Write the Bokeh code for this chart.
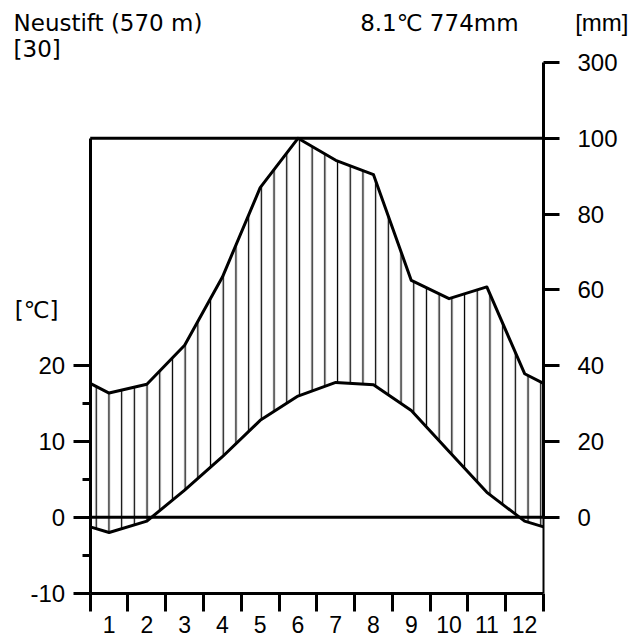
from bokeh.plotting import figure
from bokeh.models import LinearAxis, FixedTicker, Label, Range1d, ColumnDataSource
from bokeh.embed import file_html
from bokeh.resources import INLINE

# ---- data ----
station = "Neustift (570 m)"
years_label = "[30]"
mean_temp = 8.1
total_prec = 774
months = [1, 2, 3, 4, 5, 6, 7, 8, 9, 10, 11, 12]
temp = [-2.0, -0.5, 3.6, 8.0, 12.8, 16.0, 17.8, 17.5, 14.1, 8.7, 3.3, -0.5]
prec = [32.8, 35.1, 45.4, 63.4, 87.0, 100.0, 94.2, 90.4, 62.5, 57.7, 60.8, 37.9]
temp_ticks = [-10, 0, 10, 20]
temp_minor = [-5, 5, 15]
prec_ticks = [0, 20, 40, 60, 80, 100, 300]

FONT = "Liberation Sans"
HFONT = "DejaVu Sans"
FS = "24px"


def p2y(p):
    return p / 2.0 if p <= 100 else 50 + (p - 100) / 20.0


# extended curves (edges = mean of Dec/Jan)
xs = [0] + [m - 0.5 for m in months] + [12]
t_edge = (temp[0] + temp[-1]) / 2
p_edge = (prec[0] + prec[-1]) / 2
t_ext = [t_edge] + temp + [t_edge]
p_ext = [p_edge] + prec + [p_edge]
p_y = [p2y(v) for v in p_ext]
p_hatch = [min(v, 50) for v in p_y]

src = ColumnDataSource(dict(x=xs, t=t_ext, p=p_y, ph=p_hatch))

p = figure(width=632, height=639, x_range=Range1d(-2.375, 14.356), y_range=Range1d(-16.11, 68.18),
           output_backend="svg", toolbar_location=None,
           min_border_left=0, min_border_right=0, min_border_top=0, min_border_bottom=0)
p.outline_line_color = None
p.grid.visible = False
p.background_fill_color = "white"
p.border_fill_color = "white"

# hatch humid region
p.varea(x="x", y1="t", y2="ph", source=src, fill_alpha=0, hatch_pattern="|",
        hatch_scale=12.7, hatch_weight=1.3, hatch_color="black")

# reference lines (zero line, 100 mm box top, right frame below zero)
p.segment(x0=[xs[0]], y0=[0], x1=[xs[-1]], y1=[0], line_color="black", line_width=3)
p.segment(x0=[xs[0]], y0=[p2y(100)], x1=[xs[-1]], y1=[p2y(100)], line_color="black", line_width=3)
p.segment(x0=[xs[-1]], y0=[temp_ticks[0]], x1=[xs[-1]], y1=[0], line_color="black", line_width=2)

# curves
p.line("x", "p", source=src, line_color="black", line_width=3, line_join="round")
p.line("x", "t", source=src, line_color="black", line_width=3, line_join="round")

# left axis (temperature)
ya = p.yaxis[0]
ya.fixed_location = 0
ya.ticker = FixedTicker(ticks=temp_ticks, minor_ticks=temp_minor)
ya.major_label_overrides = {t: str(t) for t in temp_ticks}
ya.bounds = (-10, 50)
ya.axis_line_width = 3
ya.major_tick_line_width = 3
ya.minor_tick_line_width = 3
ya.major_tick_out = 17
ya.major_tick_in = 0
ya.minor_tick_out = 8
ya.minor_tick_in = 0
ya.major_label_standoff = 8
ya.major_label_text_font = FONT
ya.major_label_text_font_size = FS
ya.major_label_text_color = "black"

# bottom axis (months)
xa = p.xaxis[0]
xa.fixed_location = temp_ticks[0]
xa.ticker = FixedTicker(ticks=[m - 0.5 for m in months], minor_ticks=list(range(0, 13)))
xa.major_label_overrides = {m - 0.5: str(m) for m in months}
xa.bounds = (0, 12)
xa.axis_line_width = 3
xa.major_tick_out = 0
xa.major_tick_in = 0
xa.minor_tick_out = 18
xa.minor_tick_in = 0
xa.minor_tick_line_width = 3
xa.major_label_standoff = 5
xa.major_label_text_font = FONT
xa.major_label_text_font_size = "23px"
xa.major_label_text_color = "black"

# right axis (precipitation)
ra = LinearAxis(ticker=FixedTicker(ticks=[p2y(v) for v in prec_ticks]),
                major_label_overrides={p2y(v): str(v) for v in prec_ticks},
                bounds=(0, 60), fixed_location=12)
ra.axis_line_width = 3
ra.major_tick_line_width = 3
ra.major_tick_out = 16
ra.major_tick_in = 0
ra.minor_tick_out = 0
ra.minor_tick_in = 0
ra.major_label_standoff = 18
ra.major_label_text_font = FONT
ra.major_label_text_font_size = FS
ra.major_label_text_color = "black"
p.add_layout(ra, "right")


# texts
def lab(x, y, text, align="left", font=HFONT, size="23px"):
    p.add_layout(Label(x=x, y=y, text=text, text_font=font, text_font_size=size,
                       text_color="black", text_align=align, text_baseline="alphabetic"))


lab(-2.03, 65.25, station)
lab(-2.03, 61.75, years_label)
lab(11.34, 65.25, f"{mean_temp}\u2103 {total_prec}mm", "right")
lab(14.25, 65.25, "[mm]", "right", FONT, FS)
lab(-2.0, 27.35, "[\u2103]")

open("out.html", "w").write(file_html(p, INLINE))
